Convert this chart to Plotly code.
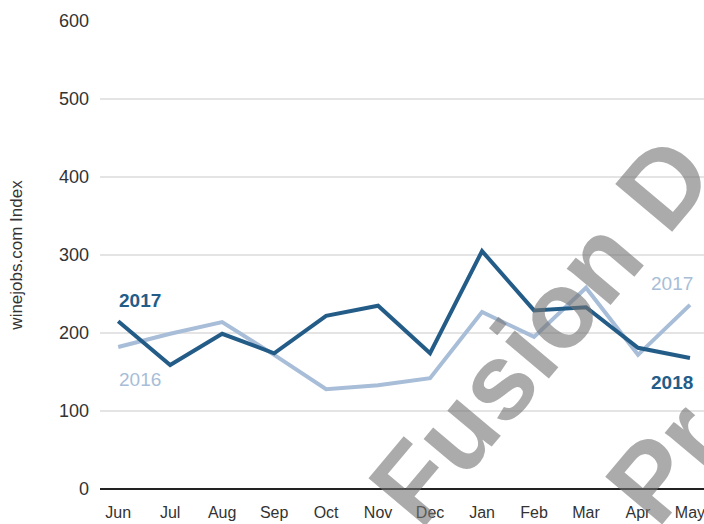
import plotly.graph_objects as go

months = ["Jun", "Jul", "Aug", "Sep", "Oct", "Nov", "Dec", "Jan", "Feb", "Mar", "Apr", "May"]
series_2016_17 = [182, 199, 214, 172, 128, 133, 142, 227, 195, 258, 172, 236]
series_2017_18 = [215, 159, 199, 174, 222, 235, 174, 305, 229, 233, 181, 168]
y_ticks = [0, 100, 200, 300, 400, 500, 600]

DARK = "#245c88"
LIGHT = "#a8bdd7"
FONT = "Liberation Sans, Arial, sans-serif"
WM_COLOR = "rgba(115,115,115,0.6)"

# plot area in pixels (used to place the watermark)
L, R, T, B = 100, 704, 21, 489

fig = go.Figure()
fig.add_trace(go.Scatter(x=months, y=series_2016_17, mode="lines",
                         line=dict(color=LIGHT, width=4), showlegend=False))
fig.add_trace(go.Scatter(x=months, y=series_2017_18, mode="lines",
                         line=dict(color=DARK, width=4), showlegend=False))

labels = [
    ("Jun", 242, "2017", DARK, True, 22),
    ("Jun", 140, "2016", LIGHT, False, 22),
    ("May", 264, "2017", LIGHT, False, -18),
    ("May", 136, "2018", DARK, True, -18),
]
for mx, my, txt, col, bold, sh in labels:
    fig.add_annotation(x=mx, y=my, text=f"<b>{txt}</b>" if bold else txt,
                       showarrow=False, font=dict(family=FONT, size=19, color=col),
                       xshift=sh)

# watermark
watermark = [("Fusion D", 540, 330, 108), ("Pr", 665, 462, 108)]
for txt, px, py, sz in watermark:
    fig.add_annotation(xref="paper", yref="paper", x=(px - L) / (R - L), y=(B - py) / (B - T),
                       xanchor="center", yanchor="middle",
                       text=f"<b>{txt}</b>", showarrow=False, textangle=-50,
                       font=dict(family=FONT, size=sz, color=WM_COLOR))

fig.update_layout(
    width=704, height=524,
    margin=dict(l=L, r=704 - R, t=T, b=524 - B),
    paper_bgcolor="white", plot_bgcolor="white",
    font=dict(family=FONT, size=17, color="#333333"),
)
fig.update_xaxes(type="category", range=[-0.35, 11.27], showgrid=False, automargin=False,
                 ticks="", showline=False, ticklabelstandoff=12,
                 tickfont=dict(size=16, color="#333333"))
fig.update_yaxes(range=[0, 600], tickvals=y_ticks, showgrid=True, gridcolor="#e4e4e4",
                 gridwidth=1.5, zeroline=True, zerolinecolor="#222222", zerolinewidth=2,
                 showline=False, ticks="", ticklabelstandoff=10, automargin=False,
                 title=dict(text="winejobs.com Index", font=dict(size=17, color="#333333"), standoff=32),
                 tickfont=dict(size=18, color="#333333"))

fig.write_html("out.html", config={"displayModeBar": False},
               post_script="document.body.style.margin='0';")
